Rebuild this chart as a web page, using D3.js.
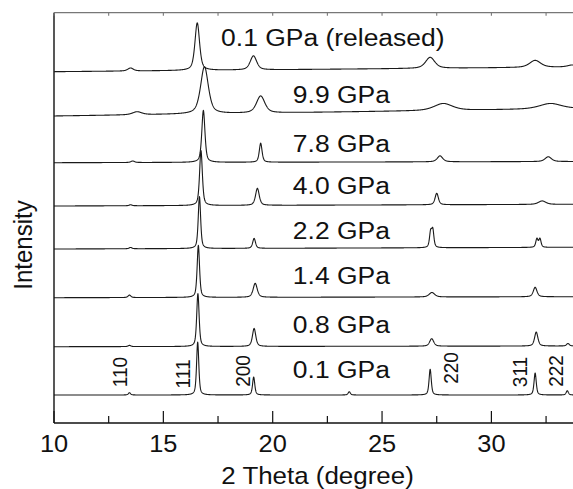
<!DOCTYPE html>
<html>
<head>
<meta charset="utf-8">
<script src="https://cdn.jsdelivr.net/npm/d3@7"></script>
<style>
  html, body { margin: 0; padding: 0; background: #fff; }
  svg { display: block; }
  text { font-family: "Liberation Sans", Arial, Helvetica, sans-serif; fill: #111; }
</style>
</head>
<body>
<svg id="chart" width="573" height="489"></svg>
<script>
// ---------------- DATA ----------------
// pattern labels, bottom to top
const patternLabels = ["0.1 GPa", "0.8 GPa", "1.4 GPa", "2.2 GPa", "4.0 GPa", "7.8 GPa", "9.9 GPa", "0.1 GPa (released)"];
// vertical offset of each pattern (intensity units) at 2θ = 10 and at 2θ = 34
const offsetStart = [28, 76.3, 125.3, 174, 217, 260.3, 307, 351.3];
const offsetEnd   = [28, 77, 126.3, 175.7, 218.7, 261.5, 314.4, 356];
// peaks of each pattern: [2θ position, height, FWHM]
const peaks01 = [[13.45, 2.3, 0.12], [16.57, 53, 0.12], [19.13, 18, 0.12], [23.5, 3.3, 0.12], [27.2, 25.7, 0.12], [32.0, 22, 0.12], [33.47, 4.3, 0.12]];
const peaks08 = [[13.45, 1.2, 0.15], [16.58, 53, 0.13], [19.15, 18, 0.18], [27.27, 7.5, 0.22], [32.05, 14, 0.18], [33.5, 2.5, 0.15]];
const peaks14 = [[13.45, 2.5, 0.15], [16.6, 52, 0.13], [19.2, 14, 0.22], [27.28, 4.5, 0.3], [32.0, 9.5, 0.2]];
const peaks22 = [[13.5, 1.3, 0.15], [16.65, 52, 0.13], [19.15, 10, 0.15], [27.22, 15, 0.12], [27.32, 17, 0.12], [32.08, 8.5, 0.12], [32.22, 8.5, 0.12]];
const peaks40 = [[13.5, 1, 0.15], [16.72, 55, 0.15], [19.3, 17, 0.2], [27.5, 11.5, 0.18], [32.32, 3.5, 0.4]];
const peaks78 = [[13.6, 1.5, 0.2], [16.83, 52, 0.17], [19.45, 19, 0.15], [27.65, 6, 0.3], [32.6, 4.8, 0.35]];
const peaks99 = [[13.8, 3, 0.5], [16.88, 47, 0.42], [19.45, 17, 0.45], [27.8, 7, 1.0], [32.7, 5.5, 1.2]];
const peaksRel = [[13.5, 3, 0.3], [16.55, 47.5, 0.25], [19.12, 14, 0.35], [27.2, 11, 0.5], [32.0, 7, 0.6], [33.7, 2, 0.5]];
const peakSets = [peaks01, peaks08, peaks14, peaks22, peaks40, peaks78, peaks99, peaksRel];
// Miller index labels and their 2θ positions
const hklLabels = ["110", "111", "200", "220", "311", "222"];
const hklPositions = [13.0, 15.89, 18.61, 28.14, 31.28, 32.96];
// axis ticks
const majorTicks = [10, 15, 20, 25, 30];
const minorTicks = [12.5, 17.5, 22.5, 27.5, 32.5];
const xLabel = "2 Theta (degree)";
const yLabel = "Intensity";

// ---------------- LAYOUT ----------------
const svg = d3.select("#chart");
const pLeft = 54, pTop = 12.7, pBottom = 423;
const x = d3.scaleLinear().domain([10, 34]).range([pLeft, pLeft + 24 * 21.87]);
const y = d3.scaleLinear().domain([0, 410.3]).range([pBottom, pTop]);
const stretch = 1.08;
const fs = 24.5;

// profile: pseudo-Voigt
function profile(t, set, k) {
  const base = offsetStart[k] + (offsetEnd[k] - offsetStart[k]) * (t - 10) / 24;
  let s = 0;
  for (const [p, h, w] of set) {
    const d = (t - p) / (w / 2);
    const lor = 1 / (1 + d * d);
    const gau = Math.exp(-Math.LN2 * d * d);
    s += h * (0.55 * lor + 0.45 * gau);
  }
  return base + s;
}
const grid = d3.range(10, 34.0001, 0.01);
const line = d3.line().x(d => x(d[0])).y(d => y(d[1]));

svg.append("clipPath").attr("id", "plotclip")
  .append("rect").attr("x", pLeft).attr("y", pTop).attr("width", 600).attr("height", pBottom - pTop);

const g = svg.append("g").attr("clip-path", "url(#plotclip)");
peakSets.forEach((set, k) => {
  const pts = grid.map(t => [t, profile(t, set, k)]);
  g.append("path").attr("d", line(pts))
    .attr("fill", "none").attr("stroke", "#1a1a1a").attr("stroke-width", 1.1)
    .attr("stroke-linejoin", "round");
});

// pattern labels (layout: start 2θ and pixel baseline)
const labelX = [20.92, 20.92, 20.92, 20.92, 20.92, 20.92, 20.92, 17.64];
const labelY = [378.3, 333.3, 284, 239, 194.3, 151.7, 102.7, 46];
patternLabels.forEach((lab, k) => {
  svg.append("text")
    .attr("transform", `translate(${x(labelX[k])},${labelY[k]}) scale(${stretch},1)`)
    .attr("font-size", fs)
    .text(lab);
});

// hkl labels
const hklY = [372, 374, 371, 368, 372, 371];
hklLabels.forEach((lab, i) => {
  svg.append("text")
    .attr("transform", `translate(${x(hklPositions[i])},${hklY[i]}) rotate(-90) scale(1,${stretch})`)
    .attr("font-size", 19)
    .attr("text-anchor", "middle")
    .attr("dominant-baseline", "central")
    .text(lab);
});

// axes
const axisColor = "#111";
svg.append("line").attr("x1", pLeft).attr("x2", 573).attr("y1", pBottom).attr("y2", pBottom)
  .attr("stroke", axisColor).attr("stroke-width", 1.4);
svg.append("line").attr("x1", pLeft).attr("x2", pLeft).attr("y1", pTop).attr("y2", pBottom)
  .attr("stroke", axisColor).attr("stroke-width", 1.4);
svg.append("line").attr("x1", pLeft).attr("x2", 573).attr("y1", pTop).attr("y2", pTop)
  .attr("stroke", "#777").attr("stroke-width", 1.2);

majorTicks.forEach(t => {
  svg.append("line").attr("x1", x(t)).attr("x2", x(t)).attr("y1", pBottom).attr("y2", pBottom - 12)
    .attr("stroke", axisColor).attr("stroke-width", 1.2);
  svg.append("text")
    .attr("transform", `translate(${x(t)},451.7) scale(${stretch},1)`)
    .attr("font-size", 23.5).attr("text-anchor", "middle").text(t);
});
minorTicks.forEach(t => {
  svg.append("line").attr("x1", x(t)).attr("x2", x(t)).attr("y1", pBottom).attr("y2", pBottom - 7)
    .attr("stroke", axisColor).attr("stroke-width", 1.2);
});
majorTicks.concat(minorTicks).forEach(t => {
  svg.append("line").attr("x1", x(t)).attr("x2", x(t)).attr("y1", pTop).attr("y2", pTop + 3)
    .attr("stroke", "#777").attr("stroke-width", 1.1);
});

svg.append("text")
  .attr("transform", `translate(317.5,484) scale(${stretch},1)`)
  .attr("font-size", 24).attr("text-anchor", "middle").text(xLabel);
svg.append("text")
  .attr("transform", `translate(31.5,245) rotate(-90) scale(1,${stretch})`)
  .attr("font-size", 24).attr("text-anchor", "middle").text(yLabel);
</script>
</body>
</html>
